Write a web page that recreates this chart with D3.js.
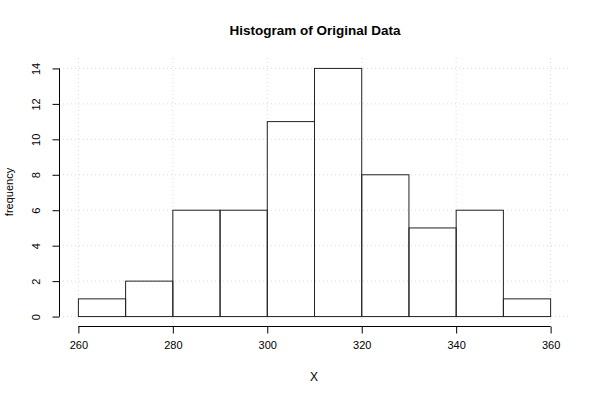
<!DOCTYPE html>
<html><head><meta charset="utf-8">
<script src="https://cdn.jsdelivr.net/npm/d3@7"></script>
<style>body{margin:0;background:#fff}svg{display:block;font-family:"Liberation Sans",Arial,sans-serif}</style>
</head><body>
<script>
const binStarts = [260,270,280,290,300,310,320,330,340,350];
const binWidth = 10;
const counts = [1,2,6,6,11,14,8,5,6,1];
const xTicks = [260,280,300,320,340,360];
const yTicks = [0,2,4,6,8,10,12,14];

const W=600,H=400;
const svg=d3.select("body").append("svg").attr("width",W).attr("height",H);
const x=d3.scaleLinear().domain([256,364]).range([59,569]);
const y=d3.scaleLinear().domain([-0.56,14.56]).range([326,58]);

// grid
svg.append("g").selectAll("line").data(yTicks).join("line")
 .attr("x1",59).attr("x2",569).attr("y1",d=>y(d)+0.5).attr("y2",d=>y(d)+0.5)
 .attr("stroke","#dcdcdc").attr("stroke-dasharray","1,3").attr("stroke-width",1);
svg.append("g").selectAll("line").data(xTicks).join("line")
 .attr("y1",58).attr("y2",326).attr("x1",d=>x(d)+0.5).attr("x2",d=>x(d)+0.5)
 .attr("stroke","#dcdcdc").attr("stroke-dasharray","1,3").attr("stroke-width",1);

// bars
svg.append("g").selectAll("rect").data(counts).join("rect")
 .attr("x",(d,i)=>x(binStarts[i])+0.5).attr("width",(d,i)=>x(binStarts[i]+binWidth)-x(binStarts[i]))
 .attr("y",d=>y(d)+0.5).attr("height",d=>y(0)-y(d))
 .attr("fill","none").attr("stroke","#222").attr("stroke-width",1);

// axes
const xAxis=d3.axisBottom(x).tickValues(xTicks).tickSize(7).tickPadding(8).tickSizeOuter(0);
const gx=svg.append("g").attr("transform","translate(0.5,326.5)").call(xAxis);
gx.select(".domain").attr("d",`M${x(260)},0H${x(360)}`);
gx.selectAll("text").attr("font-size",11).attr("font-family","Liberation Sans, Arial, sans-serif");

const yAxis=d3.axisLeft(y).tickValues(yTicks).tickSize(7).tickPadding(0).tickSizeOuter(0);
const gy=svg.append("g").attr("transform","translate(59.5,0.5)").call(yAxis);
gy.select(".domain").attr("d",`M0,${y(0)}V${y(14)}`);
gy.selectAll("text").attr("font-size",11).attr("font-family","Liberation Sans, Arial, sans-serif")
 .attr("text-anchor","middle").attr("dy",0).attr("x",0)
 .attr("transform","translate(-20,0) rotate(-90)");

svg.append("text").attr("x",315).attr("y",35).attr("text-anchor","middle")
 .attr("font-size",13.5).attr("font-weight","bold").text("Histogram of Original Data");
svg.append("text").attr("x",314).attr("y",381).attr("text-anchor","middle")
 .attr("font-size",12).text("X");
svg.append("text").attr("transform","translate(13,192) rotate(-90)").attr("text-anchor","middle")
 .attr("font-size",11).text("frequency");
</script>
</body></html>
